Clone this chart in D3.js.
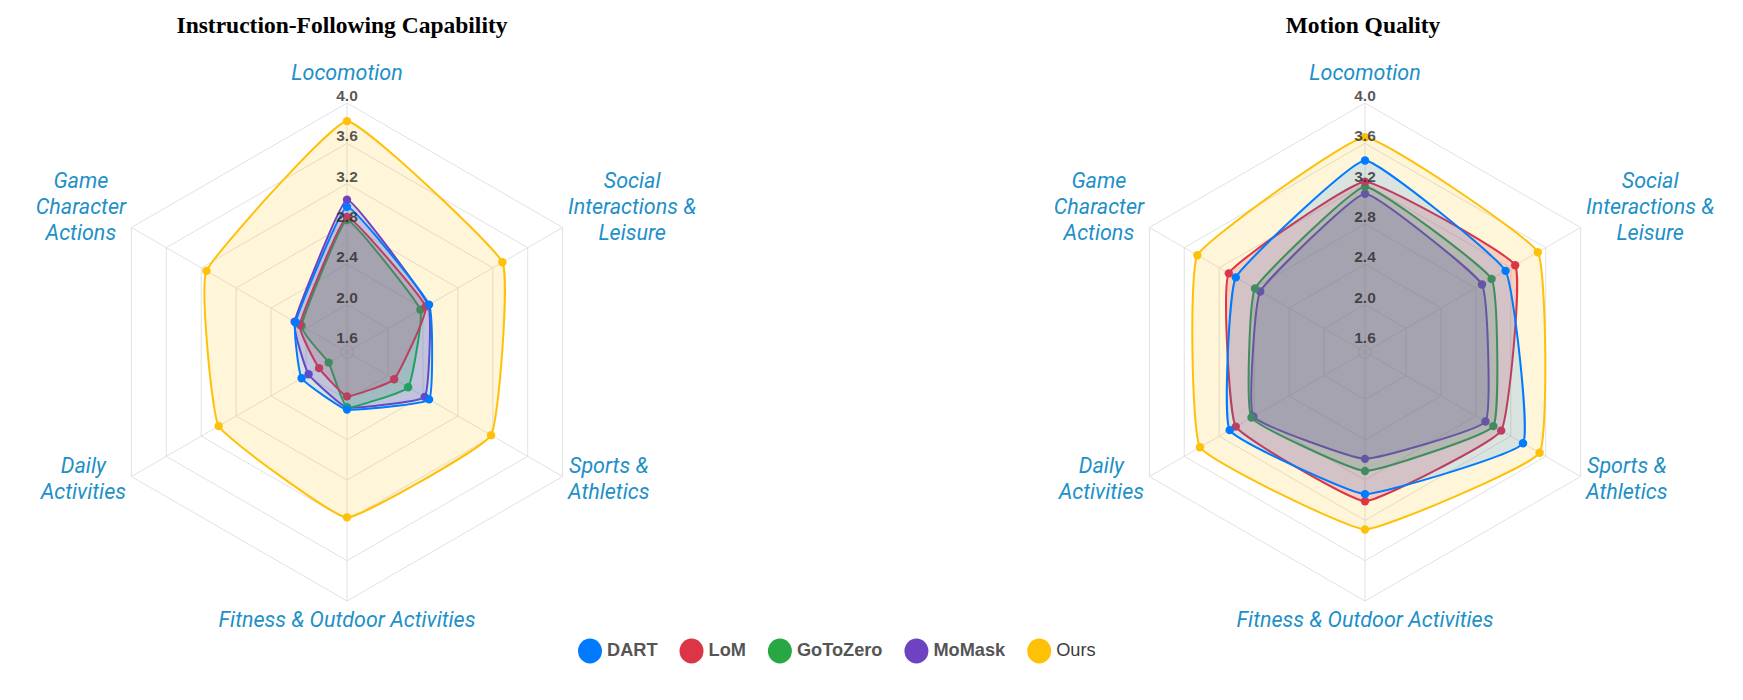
<!DOCTYPE html>
<html>
<head>
<meta charset="utf-8">
<script src="https://cdn.jsdelivr.net/npm/d3@7"></script>
<style>
  html, body { margin: 0; padding: 0; background: #ffffff; }
  svg { display: block; }
</style>
</head>
<body>
<svg id="chart" width="1743" height="700"></svg>
<script>
// ---------------- DATA ----------------
const categories = [
  ["Locomotion"],
  ["Social", "Interactions &", "Leisure"],
  ["Sports &", "Athletics"],
  ["Fitness & Outdoor Activities"],
  ["Daily", "Activities"],
  ["Game", "Character", "Actions"]
];
const seriesNames = ["DART", "LoM", "GoToZero", "MoMask", "Ours"];
const seriesColors = ["#007bff", "#dc3545", "#28a745", "#6f42c1", "#ffc107"];
const seriesFillAlpha = [0.15, 0.2, 0.2, 0.2, 0.15];
const tickValues = [1.6, 2.0, 2.4, 2.8, 3.2, 3.6, 4.0];
const tickLabels = ["1.6", "2.0", "2.4", "2.8", "3.2", "3.6", "4.0"];
const chartTitles = ["Instruction-Following Capability", "Motion Quality"];

// Instruction-Following Capability
const ifDART     = [2.97, 2.47, 2.47, 2.10, 2.05, 2.12];
const ifLoM      = [2.87, 2.43, 2.07, 1.97, 1.85, 2.07];
const ifGoToZero = [2.84, 2.37, 2.23, 2.08, 1.74, 2.05];
const ifMoMask   = [3.04, 2.46, 2.42, 2.08, 1.97, 2.13];
const ifOurs     = [3.82, 3.31, 3.18, 3.17, 3.00, 3.14];

// Motion Quality
const mqDART     = [3.43, 3.14, 3.34, 2.94, 3.08, 3.01];
const mqLoM      = [3.22, 3.25, 3.09, 3.01, 3.01, 3.09];
const mqGoToZero = [3.17, 2.98, 3.00, 2.71, 2.83, 2.79];
const mqMoMask   = [3.10, 2.87, 2.91, 2.59, 2.81, 2.73];
const mqOurs     = [3.66, 3.51, 3.53, 3.29, 3.42, 3.45];

const scaleMin = 1.53, scaleMax = 4.0;

// ---------------- LAYOUT ----------------
const svg = d3.select("#chart");
const cy = 352;
const R = 249;
const charts = [
  { title: chartTitles[0], cx: 347, titleX: 342, data: [ifDART, ifLoM, ifGoToZero, ifMoMask, ifOurs] },
  { title: chartTitles[1], cx: 1365, titleX: 1363, data: [mqDART, mqLoM, mqGoToZero, mqMoMask, mqOurs] }
];

const rScale = d3.scaleLinear().domain([scaleMin, scaleMax]).range([0, R]);
const n = categories.length;
const angle = i => (Math.PI * 2 * i) / n; // 0 at top, clockwise

function pt(cx, i, v) {
  const a = angle(i) - Math.PI / 2;
  const r = rScale(v);
  return [cx + Math.cos(a) * r, cy + Math.sin(a) * r];
}

function hexAlpha(hex, a) {
  const c = d3.rgb(hex);
  return `rgba(${c.r},${c.g},${c.b},${a})`;
}

charts.forEach(ch => {
  const g = svg.append("g");
  const cx = ch.cx;

  // title
  g.append("text")
    .attr("x", ch.titleX).attr("y", 28)
    .attr("text-anchor", "middle").attr("dominant-baseline", "middle")
    .style("font-family", "'Liberation Serif', 'Times New Roman', serif")
    .style("font-weight", "bold").style("font-size", "23.5px")
    .style("fill", "#000")
    .text(ch.title);

  // grid rings
  tickValues.forEach(tv => {
    const pts = d3.range(n).map(i => pt(cx, i, tv));
    g.append("polygon")
      .attr("points", pts.map(p => p.join(",")).join(" "))
      .attr("fill", "none").attr("stroke", "#e1e1e1").attr("stroke-width", 1);
  });
  // angle lines
  d3.range(n).forEach(i => {
    const p = pt(cx, i, scaleMax);
    g.append("line")
      .attr("x1", cx).attr("y1", cy).attr("x2", p[0]).attr("y2", p[1])
      .attr("stroke", "#e1e1e1").attr("stroke-width", 1);
  });

  // point labels (each line its own text element)
  const lineH = 26;
  categories.forEach((lines, i) => {
    const texts = lines.map(ln => g.append("text")
      .attr("text-anchor", "middle")
      .attr("dominant-baseline", "middle")
      .style("font-family", "Roboto, 'Noto Sans', sans-serif")
      .style("font-style", "italic").style("font-size", "21.5px")
      .style("fill", "#1e90c8")
      .text(ln));
    const w = d3.max(texts.map(t => t.node().getComputedTextLength()));
    let bx, by;
    if (i === 0) { bx = cx; by = cy - 278; }
    else if (i === 3) { bx = cx; by = cy + 269; }
    else {
      const side = (i === 1 || i === 2) ? 1 : -1;
      const upper = (i === 1 || i === 5);
      bx = cx + side * (221 + w / 2);
      by = upper ? cy - 144 : cy + 128;
    }
    const y0 = by - (lines.length - 1) * lineH / 2;
    texts.forEach((t, j) => t.attr("x", bx).attr("y", y0 + j * lineH));
  });

  // datasets, drawn in reverse so the first is on top
  const lineGen = d3.line().curve(d3.curveCardinalClosed.tension(0.7));
  for (let s = ch.data.length - 1; s >= 0; s--) {
    const vals = ch.data[s];
    const pts = vals.map((v, i) => pt(cx, i, v));
    g.append("path")
      .attr("d", lineGen(pts))
      .attr("fill", hexAlpha(seriesColors[s], seriesFillAlpha[s]))
      .attr("stroke", seriesColors[s]).attr("stroke-width", 2);
    g.selectAll(null).data(pts).enter().append("circle")
      .attr("cx", d => d[0]).attr("cy", d => d[1]).attr("r", 4.2)
      .attr("fill", seriesColors[s]);
  }

  // tick labels (on top)
  tickValues.forEach((tv, k) => {
    g.append("text")
      .attr("x", cx).attr("y", cy - rScale(tv) - 6)
      .attr("text-anchor", "middle").attr("dominant-baseline", "middle")
      .style("font-family", "'Liberation Sans', Arial, sans-serif")
      .style("font-weight", "bold").style("font-size", "15.5px")
      .style("fill", "rgba(40,40,40,0.78)")
      .text(tickLabels[k]);
  });
});

// ---------------- LEGEND ----------------
const lg = svg.append("g");
let lx = 590;
const ly = 651;
seriesNames.forEach((name, i) => {
  const isOurs = name === "Ours";
  lg.append("ellipse")
    .attr("cx", lx).attr("cy", ly).attr("rx", 12).attr("ry", 12.5)
    .attr("fill", seriesColors[i]);
  const t = lg.append("text")
    .attr("x", lx + 17).attr("y", ly)
    .attr("dominant-baseline", "middle")
    .style("font-family", "'Liberation Sans', Arial, sans-serif")
    .style("font-weight", isOurs ? "normal" : "bold")
    .style("font-size", "18.2px")
    .style("fill", isOurs ? "#3c3c3c" : "#555")
    .text(name);
  lx += 17 + t.node().getComputedTextLength() + 34;
});
</script>
</body>
</html>
